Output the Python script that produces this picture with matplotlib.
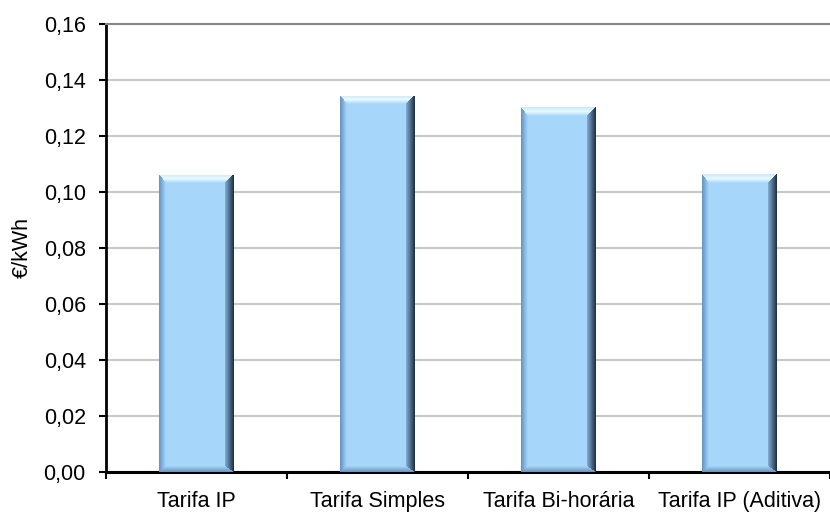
import numpy as np
import matplotlib
matplotlib.use('Agg')
import matplotlib.pyplot as plt
from matplotlib.ticker import FuncFormatter

categories = ['Tarifa IP', 'Tarifa Simples', 'Tarifa Bi-horária', 'Tarifa IP (Aditiva)']
values = [0.1061, 0.1343, 0.1302, 0.1064]
y_ticks = [0.00, 0.02, 0.04, 0.06, 0.08, 0.10, 0.12, 0.14, 0.16]
y_label = '€/kWh'

plt.rcParams['font.family'] = ['Liberation Sans', 'DejaVu Sans']
W, H = 830, 515
fig = plt.figure(figsize=(W / 100, H / 100), dpi=100)
ax = fig.add_axes([106 / W, 43 / H, 724 / W, 448 / H])

x = np.arange(len(categories))
bw = 0.41
center = np.array([166, 215, 251]) / 255
bars = ax.bar(x, values, width=bw, color=center, zorder=3)
ax.set_xlim(-0.5, len(categories) - 0.5)
ax.set_ylim(y_ticks[0], y_ticks[-1])


def bevel_image(nx, ny):
    xs = np.arange(nx)[None, :].repeat(ny, 0).astype(float) + 0.5
    ys = np.arange(ny)[:, None].repeat(nx, 1).astype(float) + 0.5
    bl, br, bt, bb = 7.0, 9.0, 9.0, 6.0
    dl = xs / bl
    dr = (nx - xs) / br
    dt = ys / bt
    db = (ny - ys) / bb
    stack = np.stack([dl, dr, dt, db])
    region = np.argmin(stack, axis=0)
    tmin = np.min(stack, axis=0)
    inside = tmin < 1
    t = np.clip(tmin, 0, 1)[..., None]
    img = np.ones((ny, nx, 3)) * center
    left_edge = np.array([100, 145, 192]) / 255
    right_edge = np.array([30, 44, 62]) / 255
    right_in = np.array([130, 175, 215]) / 255
    top_edge = np.array([200, 232, 252]) / 255
    top_mid = np.array([232, 250, 255]) / 255
    bot_edge = np.array([105, 145, 185]) / 255
    col = left_edge * (1 - t) + center * t
    img = np.where(((region == 0) & inside)[..., None], col, img)
    col = right_edge * (1 - t) + right_in * t
    img = np.where(((region == 1) & inside)[..., None], col, img)
    col = np.where(t < 0.5, top_edge * (1 - 2 * t) + top_mid * 2 * t,
                   top_mid * (2 - 2 * t) + center * (2 * t - 1))
    img = np.where(((region == 2) & inside)[..., None], col, img)
    col = bot_edge * (1 - t) + center * t
    img = np.where(((region == 3) & inside)[..., None], col, img)
    return np.clip(img, 0, 1)


fig.canvas.draw()
for b in bars:
    x0, y0 = b.get_x(), b.get_y()
    w, h = b.get_width(), b.get_height()
    p0 = ax.transData.transform((x0, y0))
    p1 = ax.transData.transform((x0 + w, y0 + h))
    nx = max(int(round(p1[0] - p0[0])), 4)
    ny = max(int(round(p1[1] - p0[1])), 4)
    im = ax.imshow(bevel_image(nx, ny), extent=(x0, x0 + w, y0, y0 + h),
                   aspect='auto', zorder=4, interpolation='nearest')
    im.set_clip_path(b)

ax.set_xlim(-0.5, len(categories) - 0.5)
ax.set_ylim(y_ticks[0], y_ticks[-1])

ax.set_yticks(y_ticks)
ax.yaxis.set_major_formatter(FuncFormatter(lambda v, p: f'{v:.2f}'.replace('.', ',')))
ax.yaxis.grid(True, color='#C8C8C8', linewidth=1.5, zorder=0)
ax.set_axisbelow(True)

ax.set_xticks(x)
ax.set_xticklabels(categories)
ax.set_xticks(np.arange(-0.5, len(categories)), minor=True)
ax.tick_params(axis='x', which='major', length=0, pad=14, labelsize=15.5)
ax.tick_params(axis='x', which='minor', length=5, width=1.5, direction='out', color='black')
ax.tick_params(axis='y', length=5, width=1.5, pad=9.5, labelsize=15.5, color='black')

ax.spines['right'].set_visible(False)
ax.spines['top'].set_color('#868686')
ax.spines['top'].set_linewidth(1.5)
ax.spines['left'].set_linewidth(2)
ax.spines['bottom'].set_linewidth(2.2)

ax.set_ylabel(y_label, fontsize=15.5, labelpad=8)

fig.savefig('out.png', dpi=100)
